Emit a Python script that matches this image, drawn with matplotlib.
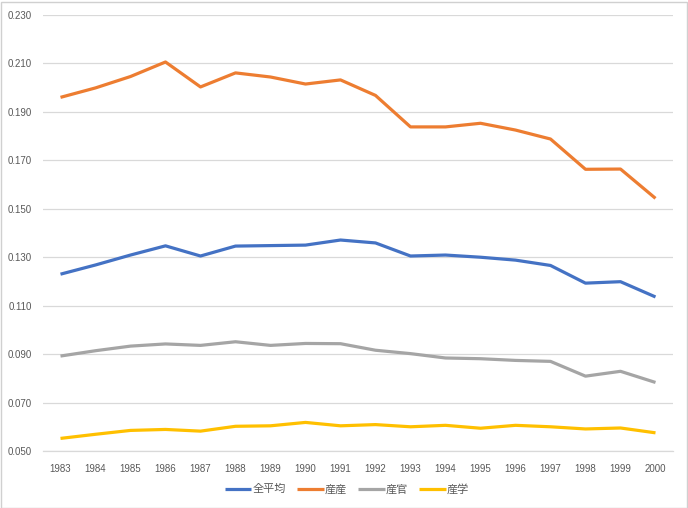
import matplotlib
matplotlib.use("Agg")
import matplotlib.pyplot as plt
from matplotlib.patches import Rectangle
from matplotlib.ticker import FixedLocator

plt.rcParams['font.family'] = ['Liberation Sans', 'Noto Sans CJK JP', 'DejaVu Sans']

years = [str(y) for y in range(1983, 2001)]
all_avg = [0.1230, 0.1268, 0.1309, 0.1347, 0.1305, 0.1346, 0.1348, 0.1350, 0.1371,
           0.1359, 0.1305, 0.1309, 0.1300, 0.1288, 0.1266, 0.1193, 0.1199, 0.1136]
ind_ind = [0.1960, 0.1999, 0.2046, 0.2106, 0.2003, 0.2061, 0.2044, 0.2015, 0.2032,
           0.1968, 0.1838, 0.1838, 0.1853, 0.1825, 0.1788, 0.1663, 0.1664, 0.1543]
ind_gov = [0.0892, 0.0914, 0.0933, 0.0942, 0.0936, 0.0951, 0.0936, 0.0944, 0.0943,
           0.0916, 0.0902, 0.0884, 0.0881, 0.0874, 0.0870, 0.0809, 0.0829, 0.0783]
ind_aca = [0.0552, 0.0569, 0.0585, 0.0589, 0.0582, 0.0602, 0.0604, 0.0618, 0.0604,
           0.0609, 0.0600, 0.0606, 0.0594, 0.0606, 0.0600, 0.0591, 0.0595, 0.0575]
series_names = ['全平均', '産産', '産官', '産学']
colors = ['#4472C4', '#ED7D31', '#A5A5A5', '#FFC000']
yticks = [0.050, 0.070, 0.090, 0.110, 0.130, 0.150, 0.170, 0.190, 0.210, 0.230]

W, H = 688, 508
fig = plt.figure(figsize=(W / 100, H / 100), dpi=100)
ax = fig.add_axes([43 / W, 1 - 451 / H, (673 - 43) / W, (451 - 15) / H])

x = list(range(len(years)))
for vals, name, c in zip([all_avg, ind_ind, ind_gov, ind_aca], series_names, colors):
    ax.plot(x, vals, color=c, lw=2.3, label=name, solid_capstyle='butt', solid_joinstyle='round')

ax.set_xlim(-0.5, len(years) - 0.5)
ax.set_ylim(0.050, 0.230)
ax.yaxis.set_major_locator(FixedLocator(yticks))
ax.set_yticklabels([f'{v:.3f}' for v in yticks])
ax.set_xticks(x)
ax.set_xticklabels(years)
ax.grid(axis='y', color='#D9D9D9', lw=0.9)
ax.set_axisbelow(True)
for s in ['top', 'right', 'left']:
    ax.spines[s].set_visible(False)
ax.spines['bottom'].set_color('#D9D9D9')
ax.spines['bottom'].set_linewidth(0.9)
ax.tick_params(axis='both', length=0, labelsize=7, labelcolor='#595959')
ax.tick_params(axis='x', pad=9)
ax.tick_params(axis='y', pad=8)

leg = fig.legend(loc='center', bbox_to_anchor=(347 / W, 1 - 489 / H), ncol=4,
                 frameon=False, fontsize=8, handlelength=2.4, handletextpad=0.1,
                 columnspacing=1.0, labelcolor='#595959')
for t in leg.get_texts():
    t.set_family(['Noto Sans CJK JP', 'DejaVu Sans'])

fig.patches.append(Rectangle((0.5 / W, 0.5 / H), (W - 2) / W, (H - 2) / H,
                             transform=fig.transFigure, fill=False,
                             edgecolor='#D0D0D0', lw=1))

fig.savefig('out.png', dpi=100)
